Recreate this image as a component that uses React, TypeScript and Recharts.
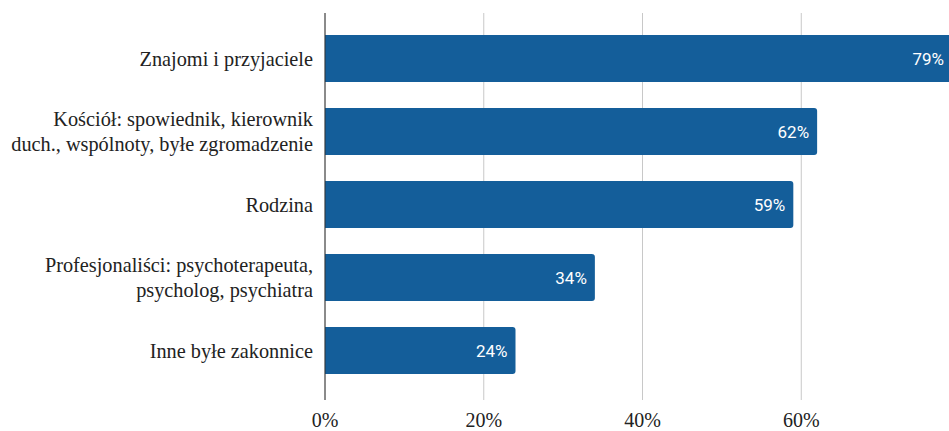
import React from "react";
import { BarChart, Bar, XAxis, YAxis, CartesianGrid, LabelList } from "recharts";

const categories = [
  "Znajomi i przyjaciele",
  "Kościół: spowiednik, kierownik\nduch., wspólnoty, byłe zgromadzenie",
  "Rodzina",
  "Profesjonaliści: psychoterapeuta,\npsycholog, psychiatra",
  "Inne byłe zakonnice",
];
const values = [79, 62, 59, 34, 24];
const xTicks = [0, 20, 40, 60];

const data = categories.map((c, i) => ({ name: c, value: values[i] }));

const SERIF = "Liberation Serif, Times New Roman, serif";

const YTick = (props: any) => {
  const { x, y, payload } = props;
  const lines = String(payload.value).split("\n");
  const lh = 25;
  const start = y - ((lines.length - 1) * lh) / 2;
  return (
    <g>
      {lines.map((l, i) => (
        <text
          key={i}
          x={x}
          y={start + i * lh}
          dy="0.35em"
          textAnchor="end"
          style={{ fontFamily: SERIF, fontSize: 20.3 }}
          fill="#222"
        >
          {l}
        </text>
      ))}
    </g>
  );
};

const XTick = (props: any) => {
  const { x, y, payload } = props;
  return (
    <text x={x} y={y} textAnchor="middle" style={{ fontFamily: SERIF, fontSize: 20 }} fill="#222" dy="0.71em">
      {payload.value + "%"}
    </text>
  );
};

export default function App() {
  return (
    <div style={{ position: "absolute", left: 0, top: 0, width: 949, height: 431, overflow: "hidden", background: "#fff" }}>
      <BarChart
        width={960}
        height={431}
        data={data}
        layout="vertical"
        margin={{ top: 13, right: 0, bottom: 0, left: 0 }}
      >
        <CartesianGrid horizontal={false} stroke="#c8c8c8" />
        <XAxis
          type="number"
          domain={[0, 80]}
          ticks={xTicks}
          axisLine={false}
          tickLine={false}
          tickSize={0}
          tickMargin={13}
          height={31}
          tick={<XTick />}
          interval={0}
        />
        <YAxis
          type="category"
          dataKey="name"
          width={325}
          axisLine={{ stroke: "#333333" }}
          tickLine={false}
          tickSize={0}
          tickMargin={12}
          tick={<YTick />}
          padding={{ top: 9, bottom: 13 }}
          interval={0}
        />
        <Bar dataKey="value" fill="#145e9a" barSize={47} radius={[0, 3, 3, 0]} isAnimationActive={false}>
          <LabelList
            dataKey="value"
            position="insideRight"
            offset={8}
            fill="#ffffff"
            style={{ fontFamily: "Roboto, sans-serif", fontSize: 17 }}
            formatter={(v: any) => v + "%"}
          />
        </Bar>
      </BarChart>
    </div>
  );
}
